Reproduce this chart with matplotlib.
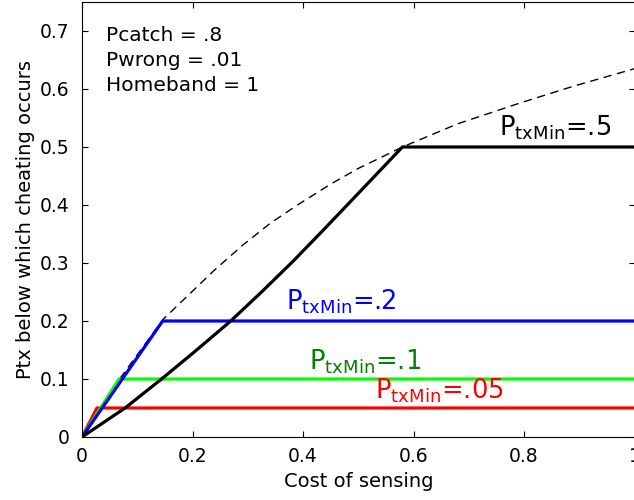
import matplotlib
matplotlib.use("Agg")
import matplotlib.pyplot as plt

# envelope (dashed)
env_x = [0, 0.068, 0.147, 0.24, 0.29, 0.34, 0.39, 0.45, 0.50, 0.58, 0.68, 0.79, 0.89, 1.0]
env_y = [0, 0.100, 0.203, 0.288, 0.330, 0.368, 0.400, 0.436, 0.463, 0.500, 0.540, 0.575, 0.605, 0.635]

# PtxMin = .5 (black)
p50_x = [0, 0.078, 0.144, 0.205, 0.268, 0.325, 0.383, 0.44, 0.5, 0.58, 1.0]
p50_y = [0, 0.05, 0.1, 0.148, 0.199, 0.250, 0.304, 0.360, 0.420, 0.5, 0.5]

# straight segments then flat
p20_x = [0, 0.146, 1.0]
p20_y = [0, 0.2, 0.2]
p10_x = [0, 0.067, 1.0]
p10_y = [0, 0.1, 0.1]
p05_x = [0, 0.027, 1.0]
p05_y = [0, 0.05, 0.05]

params = ["Pcatch = .8", "Pwrong = .01", "Homeband = 1"]

fig = plt.figure(figsize=(6.34, 5.0), dpi=100)
ax = fig.add_axes([82 / 634, 63 / 500, 552.5 / 634, 435 / 500])

ax.plot(env_x, env_y, "k--", lw=1.0, dashes=(6, 4))
ax.plot(p05_x, p05_y, color="#ff0000", lw=2.3)
ax.plot(p10_x, p10_y, color="#00ff00", lw=2.3)
ax.plot(p20_x, p20_y, color="#0000ff", lw=2.3)
ax.plot(p50_x, p50_y, color="k", lw=2.3)

ax.set_xlim(0, 1)
ax.set_ylim(0, 0.75)
ax.set_xticks([0, 0.2, 0.4, 0.6, 0.8, 1.0])
ax.set_xticklabels(["0", "0.2", "0.4", "0.6", "0.8", "1"])
ax.set_yticks([0, 0.1, 0.2, 0.3, 0.4, 0.5, 0.6, 0.7])
ax.set_yticklabels(["0", "0.1", "0.2", "0.3", "0.4", "0.5", "0.6", "0.7"])
ax.tick_params(direction="in", top=True, right=True, length=4, labelsize=13.5)
ax.tick_params(axis="x", pad=7)
ax.tick_params(axis="y", pad=9)

ax.set_xlabel("Cost of sensing", fontsize=14)
ax.set_ylabel("Ptx below which cheating occurs", fontsize=14)
ax.xaxis.set_label_coords(0.5, -0.08)
ax.yaxis.set_label_coords(-0.085, 0.5)

for i, s in enumerate(params):
    ax.text(0.043, 0.682 - i * 0.043, s, fontsize=14.5)

lab = r"P$_{\mathrm{txMin}}$="
ax.text(0.754, 0.52, lab + ".5", fontsize=18.5, color="k")
ax.text(0.37, 0.22, lab + ".2", fontsize=18.5, color="#0000ff")
ax.text(0.411, 0.117, lab + ".1", fontsize=18.5, color="#008000")
ax.text(0.531, 0.067, lab + ".05", fontsize=18.5, color="#ff0000")

fig.savefig("out.png", dpi=100)
